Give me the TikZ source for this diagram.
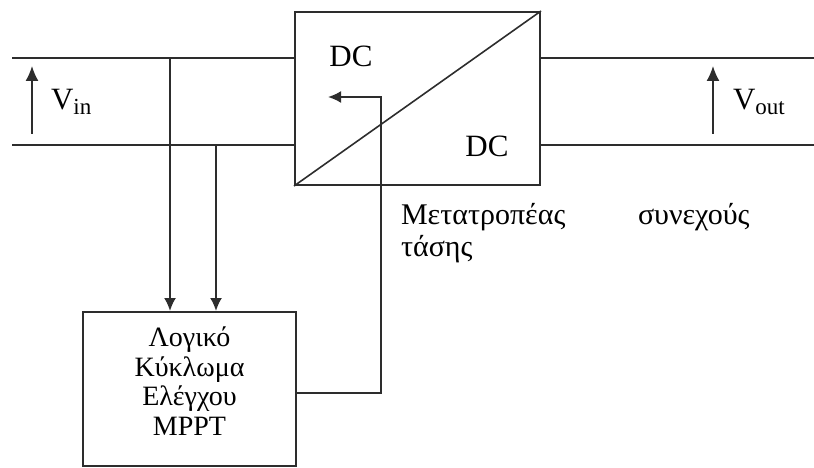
\documentclass[tikz,border=0pt]{standalone}
\usepackage{fontspec}
\setmainfont{Liberation Serif}
\usepackage{tikz}
\usetikzlibrary{calc,arrows.meta}
\definecolor{wire}{RGB}{45,45,45}
\newcommand{\subtxt}[1]{{\fontsize{23}{23}\selectfont\raisebox{-5pt}{#1}}}

\begin{document}
\begin{tikzpicture}[x=1pt,y=-1pt,line width=2pt,draw=wire,
  >={Latex[length=13pt,width=12pt]},
  block/.style={draw,rectangle,inner sep=0pt},
  lbl/.style={font=\fontsize{28}{29.5}\selectfont},
  captxt/.style={font=\fontsize{30}{32}\selectfont,anchor=base west},
  big/.style={font=\fontsize{31}{32}\selectfont}]
\useasboundingbox (0,0) rectangle (814,468);

% converter
\node[block,minimum width=245pt,minimum height=173pt] (conv) at (417.5,98.5) {};
\draw[line width=1.6pt] (conv.south west) -- (conv.north east);
\node[big,anchor=base] (dcin) at (351,67) {DC};
\node[big,anchor=base] (dcout) at (487,157) {DC};

% input and output lines
\coordinate (inT) at (12,58);
\coordinate (inB) at (12,145);
\coordinate (outT) at (814,58);
\coordinate (outB) at (814,145);
\draw (inT) -- (inT -| conv.west);
\draw (inB) -- (inB -| conv.west);
\draw (outT) -- (outT -| conv.east);
\draw (outB) -- (outB -| conv.east);

\coordinate (vinA) at (32,134);
\coordinate (vinB) at (32,66);
\draw[-{Latex[length=15pt,width=13pt]},line width=1.6pt] (vinA) -- (vinB);
\node[big,anchor=base west,inner sep=0pt] (vin) at (50,110) {V\subtxt{in}};
\coordinate (voutA) at (713,134);
\coordinate (voutB) at (713,66);
\draw[-{Latex[length=15pt,width=13pt]},line width=1.6pt] (voutA) -- (voutB);
\node[big,anchor=base west,inner sep=0pt] (vout) at (732,110) {V\subtxt{out}};

% captions
\node[captxt,inner sep=0pt] (cap1) at (400,224) {Μετατροπέας};
\node[captxt,inner sep=0pt] (cap2) at (637,224) {συνεχούς};
\node[captxt,inner sep=0pt] (cap3) at (400,256) {τάσης};

% controller
\node[block,minimum width=213pt,minimum height=154pt] (mppt) at (189.5,389) {};
\node[lbl,align=center] (mpptlbl) at (189.5,381) {Λογικό\\Κύκλωμα\\Ελέγχου\\MPPT};

\coordinate (s1) at (170,58);
\coordinate (s2) at (216,145);
\draw[->] (s1) -- (s1 |- mppt.north);
\draw[->] (s2) -- (s2 |- mppt.north);

\coordinate (fbup) at (381,97);
\coordinate (fbtip) at (328,97);
\draw[->] ([yshift=-4pt]mppt.east) -| (fbup) -- (fbtip);

\end{tikzpicture}
\end{document}
